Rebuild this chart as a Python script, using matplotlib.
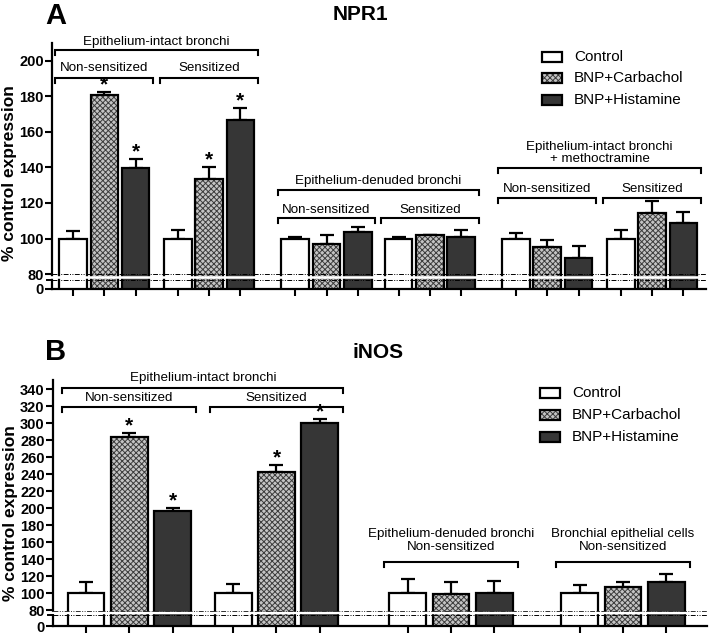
import numpy as np
import matplotlib
matplotlib.use("Agg")
import matplotlib.pyplot as plt
from matplotlib.patches import Rectangle
from matplotlib.transforms import offset_copy

plt.rcParams['font.family'] = ['Liberation Sans', 'DejaVu Sans']
plt.rcParams['hatch.linewidth'] = 0.7

# Panel A - NPR1 (% of control), groups of three bars
npr1_control = [100, 100, 100, 100, 100, 100]
npr1_control_err = [4, 5, 1, 1, 3.2, 5]
npr1_carb = [181, 133.5, 97, 101.7, 95, 114.4]
npr1_carb_err = [1.5, 6.7, 4.7, 0.5, 4.4, 6.9]
npr1_hist = [139.4, 166.7, 103.5, 101, 89, 108.6]
npr1_hist_err = [5.3, 6.6, 3, 3.7, 6.7, 6.2]
npr1_stars = [[False, True, True], [False, True, True], [False] * 3, [False] * 3, [False] * 3, [False] * 3]

# Panel B - iNOS
inos_control = [100, 100, 100, 100]
inos_control_err = [13, 10.6, 16.5, 10]
inos_carb = [283.5, 242, 99, 107.5]
inos_carb_err = [5, 9, 13.5, 6]
inos_hist = [196, 300, 100, 113.5]
inos_hist_err = [4.5, 5, 14.5, 9]
inos_stars = [[False, True, True], [False, True, True], [False] * 3, [False] * 3]

legend_labels = ["Control", "BNP+Carbachol", "BNP+Histamine"]

# bracket labels: (text, first group, last group, bracket y, text y)
npr1_brackets = [
    ("Epithelium-intact bronchi", 0, 1, 206.2, 210.3),
    ("Non-sensitized", 0, 0, 190.4, 196.0),
    ("Sensitized", 1, 1, 190.4, 196.0),
    ("Epithelium-denuded bronchi", 2, 3, 127.5, 132.2),
    ("Non-sensitized", 2, 2, 111.8, 116.0),
    ("Sensitized", 3, 3, 111.8, 116.0),
    ("Epithelium-intact bronchi\n+ methoctramine", 4, 5, 139.9, 148.0),
    ("Non-sensitized", 4, 4, 123.0, 128.0),
    ("Sensitized", 5, 5, 123.0, 128.0),
]
inos_brackets = [
    ("Epithelium-intact bronchi", 0, 1, 341.2, 353.5),
    ("Non-sensitized", 0, 0, 318.8, 329.5),
    ("Sensitized", 1, 1, 318.8, 329.5),
    ("Epithelium-denuded bronchi\nNon-sensitized", 2, 2, 137.0, 162.0),
    ("Bronchial epithelial cells\nNon-sensitized", 3, 3, 137.0, 162.0),
]

W, H = 709, 638
fig = plt.figure(figsize=(W / 100, H / 100), dpi=100)

CARB_FACE = '#c4c4c4'
CARB_HATCH = '#3c3c3c'
HIST_FACE = '#363636'


def make_scale(k):
    def fwd(y):
        y = np.asarray(y, dtype=float)
        return np.where(y >= 80, y, 80 - (80 - y) * k)

    def inv(v):
        v = np.asarray(v, dtype=float)
        return np.where(v >= 80, v, 80 - (80 - v) / k)
    return fwd, inv


def draw_panel(ax, starts, series, errs, stars, brackets, k, ymax, yticks,
               width, xlim, brk, tick_fs, star_off):
    fwd, inv = make_scale(k)
    ax.set_yscale('function', functions=(fwd, inv))
    starts = np.asarray(starts)
    xs_all = []
    for j, (vals, err) in enumerate(zip(series, errs)):
        x = starts + j
        xs_all.extend(x)
        if j == 0:
            ax.bar(x, vals, width, color='white', edgecolor='black', linewidth=1.6, zorder=3)
        elif j == 1:
            ax.bar(x, vals, width, color=CARB_FACE, edgecolor=CARB_HATCH, hatch='xxxxxx',
                   linewidth=0, zorder=3)
            ax.bar(x, vals, width, fill=False, edgecolor='black', linewidth=1.6, zorder=3.5)
        else:
            ax.bar(x, vals, width, color=HIST_FACE, edgecolor='black', linewidth=1.6, zorder=3)
        ax.errorbar(x, vals, yerr=[np.zeros(len(vals)), err], fmt='none', ecolor='black',
                    elinewidth=1.6, capsize=5.2, capthick=1.6, zorder=2.5)
        for g in range(len(vals)):
            if stars[g][j]:
                ax.text(x[g], vals[g] + err[g] + star_off, '*', ha='center', va='center',
                        fontsize=15, fontweight='bold', zorder=4)

    # group brackets
    for text, g0, g1, yb, yt in brackets:
        x0 = starts[g0] - width / 2 - 0.12
        x1 = starts[g1] + 2 + width / 2 + 0.12
        drop = (ymax - fwd(0)) * 0.022
        ax.plot([x0, x0, x1, x1], [yb - drop, yb, yb, yb - drop], color='black',
                lw=1.5, clip_on=False, zorder=4, solid_joinstyle='miter')
        ax.text((x0 + x1) / 2, yt, text, ha='center', va='center', fontsize=9.6,
                linespacing=1.05, clip_on=False)

    ax.set_xlim(*xlim)
    ax.set_ylim(0, ymax)
    ax.set_yticks(yticks)
    ax.set_yticklabels([str(t) for t in yticks], fontweight='bold', fontsize=tick_fs)
    ax.set_xticks(xs_all)
    ax.tick_params(axis='x', length=5, width=1.5, labelbottom=False)
    ax.tick_params(axis='y', length=5, width=1.5, pad=1)
    for s in ('top', 'right'):
        ax.spines[s].set_visible(False)
    for s in ('left', 'bottom'):
        ax.spines[s].set_linewidth(1.6)

    # axis break
    base = ax.get_yaxis_transform()
    l_hi, band_c, band_w, l_lo = brk

    def off(d):
        return offset_copy(base, fig=fig, y=-d, units='dots')
    dash = (0, (5, 1.5, 1, 1.5, 1, 1.5))
    ax.plot([0, 1], [80, 80], transform=off(l_hi), ls=dash, lw=0.7, color='black',
            clip_on=False, zorder=6)
    ax.plot([0, 1], [80, 80], transform=off(l_lo), ls=dash, lw=0.7, color='black',
            clip_on=False, zorder=6)
    ax.plot([-0.012, 1.0], [80, 80], transform=off(band_c), lw=band_w * 0.72,
            color='white', solid_capstyle='butt', clip_on=False, zorder=7)
    ax.plot([-0.008, 0], [80, 80], transform=off(l_lo), lw=1.4, color='black',
            clip_on=False, zorder=8)


def draw_legend(x, ys):
    faces = ['white', CARB_FACE, HIST_FACE]
    for i, (lab, y) in enumerate(zip(legend_labels, ys)):
        fx, fy = x / W, 1 - (y + 5) / H
        if i == 1:
            fig.add_artist(Rectangle((fx, fy), 20 / W, 10 / H, transform=fig.transFigure,
                                     facecolor=faces[i], edgecolor=CARB_HATCH, hatch='xxxxxx',
                                     linewidth=0))
            fig.add_artist(Rectangle((fx, fy), 20 / W, 10 / H, transform=fig.transFigure,
                                     fill=False, edgecolor='black', linewidth=1.6))
        else:
            fig.add_artist(Rectangle((fx, fy), 20 / W, 10 / H, transform=fig.transFigure,
                                     facecolor=faces[i], edgecolor='black', linewidth=1.6))
        fig.text((x + 32) / W, 1 - y / H, lab, ha='left', va='center', fontsize=11)


# ---- Panel A
axA = fig.add_axes([52 / W, 1 - 289 / H, 654 / W, 246 / H])
draw_panel(axA, [0, 3.35, 7.1, 10.4, 14.15, 17.5],
           [npr1_control, npr1_carb, npr1_hist],
           [npr1_control_err, npr1_carb_err, npr1_hist_err],
           npr1_stars, npr1_brackets, k=0.105, ymax=210,
           yticks=[0, 80, 100, 120, 140, 160, 180, 200], width=0.88,
           xlim=(-0.67, 20.22), brk=(0.3, 3.2, 2.6, 5.5), tick_fs=10.5, star_off=4.0)

# ---- Panel B
axB = fig.add_axes([53 / W, 1 - 626 / H, 654 / W, 246 / H])
draw_panel(axB, [0, 3.4, 7.43, 11.4],
           [inos_control, inos_carb, inos_hist],
           [inos_control_err, inos_carb_err, inos_hist_err],
           inos_stars, inos_brackets, k=0.235, ymax=350.6,
           yticks=[0] + list(range(80, 341, 20)), width=0.85,
           xlim=(-0.76, 14.34), brk=(0.6, 2.6, 2.4, 5.0), tick_fs=10.5, star_off=8)

draw_legend(542, [57, 78, 100])
draw_legend(540, [393, 415, 437])

fig.text(56 / W, 1 - 16 / H, "A", ha='center', va='center', fontsize=21, fontweight='bold')
fig.text(56 / W, 1 - 352 / H, "B", ha='center', va='center', fontsize=21, fontweight='bold')
fig.text(360 / W, 1 - 14 / H, "NPR1", ha='center', va='center', fontsize=15, fontweight='bold')
fig.text(378 / W, 1 - 353 / H, "iNOS", ha='center', va='center', fontsize=15, fontweight='bold')
fig.text(10 / W, 1 - 173 / H, "% control expression", ha='center', va='center',
         rotation=90, fontsize=12.5, fontweight='bold')
fig.text(11 / W, 1 - 513 / H, "% control expression", ha='center', va='center',
         rotation=90, fontsize=12.5, fontweight='bold')

fig.savefig("out.png", dpi=100)
